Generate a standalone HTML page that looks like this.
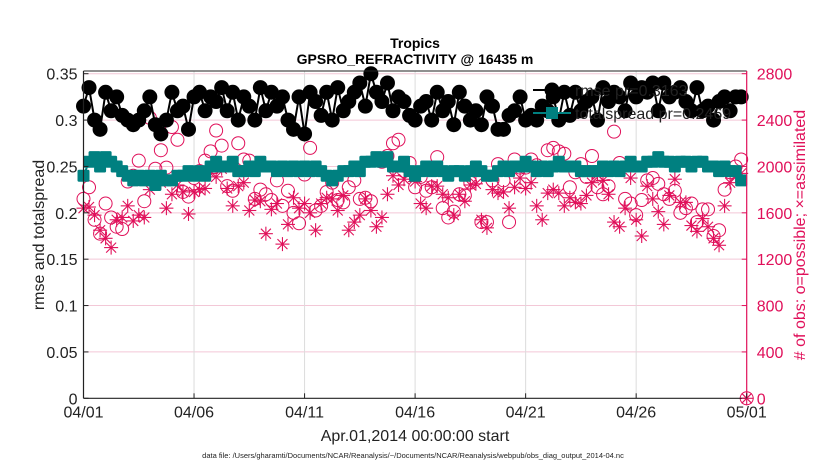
<!DOCTYPE html>
<html><head><meta charset="utf-8"><style>
body{margin:0;background:#fff;}
svg{display:block;font-family:"Liberation Sans",Arial,sans-serif;}
</style></head><body>
<svg id="chart" width="830" height="470" viewBox="0 0 830 470" xmlns="http://www.w3.org/2000/svg">
<text x="415" y="48" text-anchor="middle" font-size="14" font-weight="bold">Tropics</text>
<text x="415" y="64" text-anchor="middle" font-size="14" font-weight="bold">GPSRO_REFRACTIVITY @ 16435 m</text>
<g id="grid"></g>
<g id="series"></g>
<g id="axes"></g>
<g id="legend"></g>
<text transform="translate(44,235) rotate(-90)" text-anchor="middle" font-size="16" fill="#222">rmse and totalspread</text>
<text transform="translate(805,235) rotate(-90)" text-anchor="middle" font-size="16" fill="#e0105a"># of obs: o=possible; ×=assimilated</text>
<text x="415" y="441" text-anchor="middle" font-size="16" fill="#222">Apr.01,2014 00:00:00 start</text>
<text x="413" y="458" text-anchor="middle" font-size="7.5" fill="#222">data file: /Users/gharamti/Documents/NCAR/Reanalysis/~/Documents/NCAR/Reanalysis/webpub/obs_diag_output_2014-04.nc</text>
</svg>
<script>
const xTickLabels=["04/01","04/06","04/11","04/16","04/21","04/26","05/01"];
const yTicks=[0,0.05,0.1,0.15,0.2,0.25,0.3,0.35];
const yTickLabels=["0","0.05","0.1","0.15","0.2","0.25","0.3","0.35"];
const y2Ticks=[0,400,800,1200,1600,2000,2400,2800];
const rmse=[.315,.335,.30,.29, .33,.31,.325,.305, .30,.295,.30,.31, .325,.295,.285,.30, .33,.31,.315,.29,
.325,.33,.31,.325, .32,.335,.31,.33, .30,.325,.315,.30, .335,.31,.33,.315, .325,.30,.29,.325,
.285,.33,.32,.305, .33,.30,.335,.31, .32,.33,.34,.315, .35,.33,.32,.34, .31,.325,.32,.305,
.30,.315,.32,.30, .33,.31,.32,.295, .33,.315,.30,.31, .295,.325,.315,.29, .29,.305,.31,.325,
.30,.305,.30,.315, .31,.325,.30,.33, .305,.33,.31,.32, .325,.30,.335,.32, .33,.325,.31,.34,
.325,.335,.33,.34, .31,.34,.325,.33, .335,.32,.31,.335, .31,.315,.30,.32, .325,.31,.325,.325];
const spread=[.24,.255,.26,.25, .26,.255,.25,.245, .24,.235,.24,.235, .24,.23,.24,.235, .235,.24,.24,.245,
.24,.245,.24,.25, .255,.25,.25,.255, .245,.245,.25,.245, .255,.25,.25,.245, .25,.245,.25,.245,
.25,.245,.25,.245, .24,.235,.24,.245, .245,.25,.245,.255, .255,.26,.255,.26, .25,.25,.255,.245,
.24,.245,.25,.245, .25,.245,.24,.245, .245,.24,.245,.25, .245,.24,.24,.245, .25,.245,.25,.25,
.255,.25,.245,.25, .245,.25,.255,.25, .25,.25,.245,.245, .245,.245,.25,.245, .25,.245,.25,.255,
.25,.25,.255,.255, .26,.255,.255,.25, .255,.255,.25,.255, .255,.25,.25,.245, .25,.245,.245,.235];
const obsPossible=[1720,1820,1540,1420, 1680,1560,1480,1460, 1870,1920,2050,1700, 2420,1980,2140,1990, 2340,2230,1780,1740,
1900,1960,2050,2130, 2310,2180,1830,1790, 2200,2060,2050,1720, 1800,1760,1710,1880, 1660,1790,1600,1510,
1930,2160,1620,1660, 1780,1860,1710,1690, 1820,1880,1720,1730, 1700,2060,2040,2090, 2200,2230,1960,2030,
1820,1910,1790,1820, 2080,1640,1560,1610, 1760,1750,1860,1890, 1520,1520,1880,2020, 1880,1520,2060,1990,
1990,2060,2010,1980, 2140,2160,2130,2110, 1820,1950,2020,1910, 2090,1820,1760,1830, 2300,2030,1720,1680,
1580,1710,1880,1900, 1850,1760,1720,1790, 1600,1640,1680,1520, 1630,1630,1400,1450, 1800,1950,2000,2060, 0];
const obsAssim=[1640,1650,1580,1450, 1380,1300,1540,1560, 1660,1530,1580,1560, 1800,1900,1860,1640, 1760,1840,1780,1590,
1780,1800,1810,1940, 1910,1980,1810,1660, 1830,1860,1620,1710, 1700,1420,1630,1680, 1330,1500,1730,1640,
1680,1600,1450,1680, 1730,1720,1620,1750, 1450,1520,1580,1720, 1620,1480,1560,1760, 1920,1840,1890,1950,
1870,1680,1640,1830, 1830,1760,1730,1580, 1760,1700,1840,1850, 1540,1470,1800,1770, 1780,1640,1820,1900,
1810,1860,1660,1540, 1770,1800,1770,1660, 1730,1690,1680,1750, 1860,1930,1880,1760, 1520,1480,1640,1900,
1540,1400,1830,1720, 1610,1500,1750,1890, 1690,1690,1490,1440, 1550,1480,1380,1320, 1660,1860,1920,1940, 0];

const NS="http://www.w3.org/2000/svg";
const L=83.5,R=746.7,B=398.3,T=73.7;
const X=i=>L+(i/120)*(R-L);
const Y=v=>B-(v/0.35)*(B-T);
const Y2=v=>B-(v/2800)*(B-T);
const RED="#e0105a";
function mk(tag,attrs,parent){const e=document.createElementNS(NS,tag);for(const k in attrs)e.setAttribute(k,attrs[k]);parent.appendChild(e);return e;}
const grid=document.getElementById('grid'),series=document.getElementById('series'),axes=document.getElementById('axes'),legend=document.getElementById('legend');

y2Ticks.forEach((v,i)=>{if(v===0)return;const e=mk('line',{x1:L,x2:R,y1:Y2(v),y2:Y2(v),stroke:'#f3c8d7','stroke-width':1},grid);

});
xTickLabels.forEach((t,i)=>{const x=X(i*20);if(i>0&&i<6){const e=mk('line',{x1:x,x2:x,y1:71,y2:B,stroke:'#dcdcdc','stroke-width':1},grid);

}});

obsAssim.forEach((v,i)=>{const x=X(i),y=Y2(v),s=7,g=mk('g',{stroke:RED,'stroke-width':1.1},series);


mk('line',{x1:x-s,x2:x+s,y1:y,y2:y},g);mk('line',{x1:x,x2:x,y1:y-s,y2:y+s},g);
mk('line',{x1:x-5,x2:x+5,y1:y-5,y2:y+5},g);mk('line',{x1:x-5,x2:x+5,y1:y+5,y2:y-5},g);});
obsPossible.forEach((v,i)=>{const e=mk('circle',{cx:X(i),cy:Y2(v),r:6.5,fill:'none',stroke:RED,'stroke-width':1},series);

});
let d='';spread.forEach((v,i)=>{d+=(i?'L':'M')+X(i).toFixed(1)+','+Y(v).toFixed(1);});
const sl=mk('path',{d:d,fill:'none',stroke:'#008080','stroke-width':2},series);


spread.forEach((v,i)=>{const e=mk('rect',{x:X(i)-6,y:Y(v)-6,width:12,height:12,rx:1.5,fill:'#008080'},series);

});
d='';rmse.forEach((v,i)=>{d+=(i?'L':'M')+X(i).toFixed(1)+','+Y(v).toFixed(1);});
const rl=mk('path',{d:d,fill:'none',stroke:'#000','stroke-width':2},series);


rmse.forEach((v,i)=>{const e=mk('circle',{cx:X(i),cy:Y(v),r:7.5,fill:'#000'},series);

});

const fr=mk('path',{d:`M${L},71 H${R}`,stroke:'#222','stroke-width':1,fill:'none'},axes);


const la=mk('line',{x1:L,x2:L,y1:71,y2:B,stroke:'#222','stroke-width':1.2},axes);


const ba=mk('line',{x1:L,x2:R,y1:B,y2:B,stroke:'#222','stroke-width':1.2},axes);


const ra=mk('line',{x1:R,x2:R,y1:71,y2:B,stroke:RED,'stroke-width':1.2},axes);


yTicks.forEach((v,i)=>{mk('line',{x1:L,x2:L+5,y1:Y(v),y2:Y(v),stroke:'#222'},axes);
const t=mk('text',{x:L-6,y:Y(v)+6,'text-anchor':'end','font-size':16,fill:'#222'},axes);t.textContent=yTickLabels[i];

});
y2Ticks.forEach(v=>{mk('line',{x1:R-5,x2:R,y1:Y2(v),y2:Y2(v),stroke:RED},axes);
const t=mk('text',{x:R+10,y:Y2(v)+6,'font-size':16,fill:RED},axes);t.textContent=String(v);

});
xTickLabels.forEach((s,i)=>{const x=X(i*20);mk('line',{x1:x,x2:x,y1:B-5,y2:B,stroke:'#222'},axes);
const t=mk('text',{x:x,y:B+19,'text-anchor':'middle','font-size':16,fill:'#222'},axes);t.textContent=s;

});

[[90,'#000','rmse pr=0.3163'],[113,'#008080','totalspread pr=0.2469']].forEach((r,k)=>{
mk('line',{x1:533,x2:571,y1:r[0],y2:r[0],stroke:r[1],'stroke-width':2},legend);
if(k===0)mk('circle',{cx:552,cy:r[0],r:7.5,fill:'#000'},legend);else mk('rect',{x:546,y:r[0]-6,width:12,height:12,fill:'#008080'},legend);
const t=mk('text',{x:575,y:r[0]+6,'font-size':16,fill:'#222'},legend);t.textContent=r[2];

});
</script>
</body></html>
